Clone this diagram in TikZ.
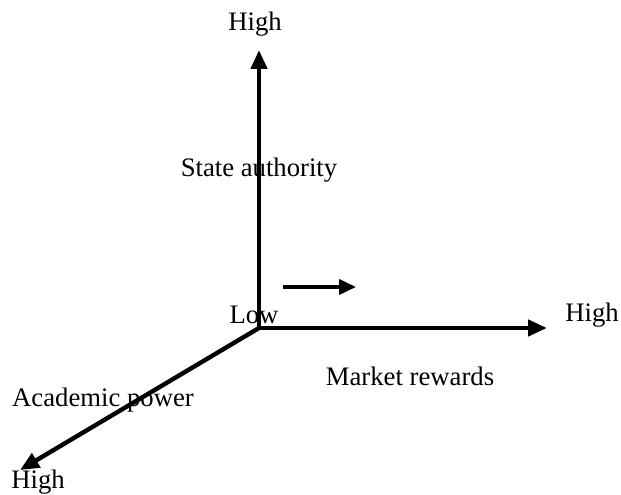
\documentclass[tikz,border=0pt]{standalone}
\usepackage{fontspec}
\setmainfont{Liberation Serif}
\usetikzlibrary{arrows.meta}
\begin{document}
\begin{tikzpicture}[x=1pt,y=1pt,
  axis/.style={line width=4.4pt,-{Triangle[length=19pt,width=16pt]}},
  lbl/.style={font=\fontsize{26.7}{30}\selectfont,inner sep=0pt,anchor=base}]
\useasboundingbox (0,0) rectangle (621,495);
\coordinate (O) at (259,167);
\coordinate (T) at (259,445);
\coordinate (R) at (547,167);
\coordinate (D) at (20,25);
\coordinate (sa) at (283,208);
\coordinate (sb) at (356,208);
\draw[axis] (O) -- (T);
\draw[axis] (O) -- (R);
\draw[axis] (O) -- (D);
\draw[line width=3.8pt,-{Triangle[length=17pt,width=15pt]}] (sa) -- (sb);
\node[lbl] (hightop) at (255,464) {High};
\node[lbl] (state) at (259,318) {State authority};
\node[lbl] (low) at (254,171) {Low};
\node[lbl] (highright) at (592,173) {High};
\node[lbl] (market) at (410,109) {Market rewards};
\node[lbl] (academic) at (103,88) {Academic power};
\node[lbl] (highbottom) at (38,6) {High};
\end{tikzpicture}
\end{document}
